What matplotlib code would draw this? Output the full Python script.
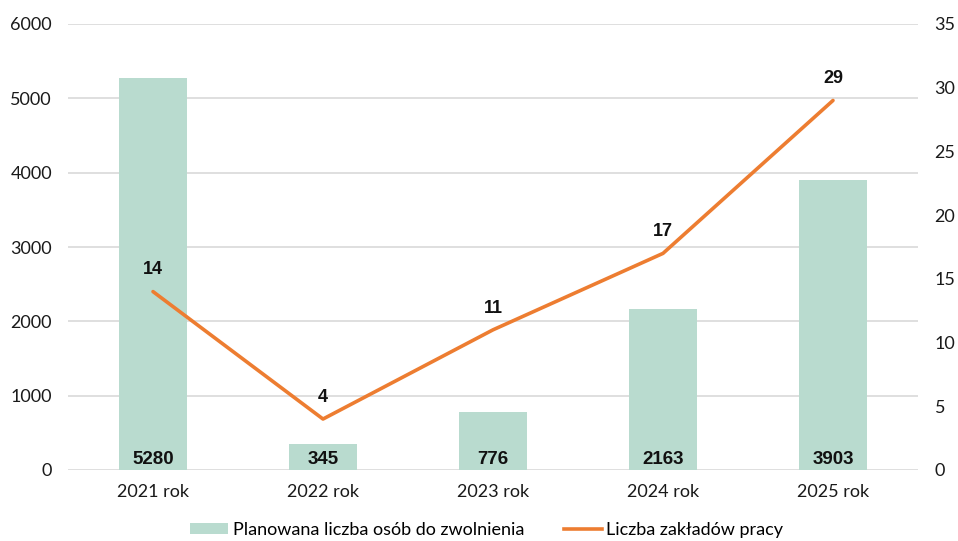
import matplotlib
matplotlib.use("Agg")
import matplotlib.pyplot as plt
from matplotlib.patches import Patch
from matplotlib.lines import Line2D

categories = ["2021 rok", "2022 rok", "2023 rok", "2024 rok", "2025 rok"]
osoby = [5280, 345, 776, 2163, 3903]
zaklady = [14, 4, 11, 17, 29]

bar_color = "#B9DBCF"
line_color = "#ED7D31"
grid_color = "#D9D9D9"

fig = plt.figure(figsize=(9.58, 5.41), dpi=100)
ax = fig.add_axes([68/958, 1-470/541, 850/958, 446/541])
ax2 = ax.twinx()

x = list(range(len(categories)))
ax.bar(x, osoby, width=0.4, color=bar_color, zorder=2)
ax.set_xlim(-0.5, len(categories)-0.5)
ax.set_ylim(0, 6000)
ax.set_yticks(range(0, 6001, 1000))
ax.grid(axis="y", color=grid_color, linewidth=1.2, zorder=0)
ax.set_axisbelow(True)
for s in ax.spines.values():
    s.set_visible(False)
for s in ax2.spines.values():
    s.set_visible(False)
ax.tick_params(axis="both", length=0, labelsize=13, labelcolor="#1a1a1a")
ax.tick_params(axis="x", pad=10)
ax.tick_params(axis="y", pad=11.5)
ax.set_xticks(x)
ax.set_xticklabels(categories, fontfamily="Lato")
for lab in ax.get_yticklabels():
    lab.set_fontfamily("Lato")

for xi, v in zip(x, osoby):
    ax.annotate(str(v), (xi, 0), xytext=(0, 1.5), textcoords="offset points",
                ha="center", va="bottom", fontsize=13.5, fontweight="bold",
                fontfamily="Liberation Sans", color="#111111", zorder=4)

ax2.plot(x, zaklady, color=line_color, linewidth=2.6, zorder=3, solid_capstyle="round")
ax2.set_ylim(0, 35)
ax2.set_yticks(range(0, 36, 5))
ax2.tick_params(axis="y", length=0, labelsize=13, labelcolor="#1a1a1a", pad=12)
for lab in ax2.get_yticklabels():
    lab.set_fontfamily("Lato")
for xi, v in zip(x, zaklady):
    ax2.annotate(str(v), (xi, v), xytext=(0, 9.5), textcoords="offset points",
                 ha="center", va="bottom", fontsize=13, fontweight="bold",
                 fontfamily="Liberation Sans", color="#111111")

handles = [Patch(facecolor=bar_color, edgecolor="none", label="Planowana liczba osób do zwolnienia"),
           Line2D([0], [0], color=line_color, linewidth=2.6, label="Liczba zakładów pracy")]
fig.legend(handles=handles, loc="center", bbox_to_anchor=(0.508, 1-530/541), ncol=2,
           frameon=False, prop={"family": "Lato", "size": 13},
           handlelength=2.1, handleheight=0.55, columnspacing=2.2, handletextpad=0.25,
           borderpad=0, borderaxespad=0)

fig.savefig("out.png", dpi=100)
